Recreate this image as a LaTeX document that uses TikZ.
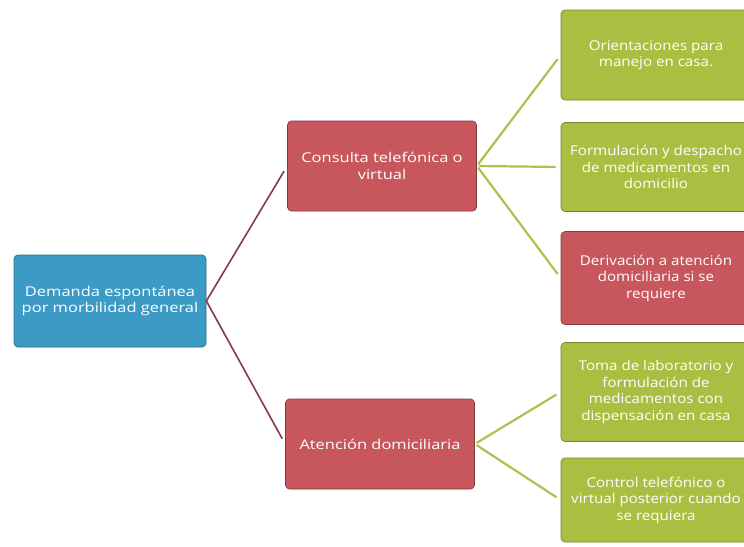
\documentclass[tikz,border=0pt]{standalone}
\usepackage{fontspec}
\setmainfont{Open Sans}[FakeStretch=1.22]
\newfontfamily\leaffont{Open Sans}[FakeStretch=1.12]
\definecolor{rootblue}{HTML}{3C9BC4}
\definecolor{boxred}{HTML}{C7575C}
\definecolor{leafgreen}{HTML}{A9BF42}
\definecolor{linered}{HTML}{853A45}
\definecolor{linegreen}{HTML}{ABC24F}
\begin{document}
\begin{tikzpicture}[x=1pt,y=-1pt,-]
    \tikzstyle{box}=[rounded corners=4pt,text=white,align=center,inner sep=2pt,line width=0.7pt,font=\fontsize{13.5}{16.5}\selectfont]
    \tikzstyle{rootbox}=[box,fill=rootblue,draw=rootblue!70!black,minimum width=192pt,minimum height=92pt]
    \tikzstyle{midbox}=[box,fill=boxred,draw=boxred!65!black,minimum width=189pt,minimum height=90pt]
    \tikzstyle{leafbox}=[box,minimum width=190pt,font=\leaffont\fontsize{13.5}{16.5}\selectfont]
    \tikzstyle{rootline}=[draw=linered,line width=1.6pt,shorten >=6pt]
    \tikzstyle{leafline}=[draw=linegreen,line width=2.2pt,shorten <=2pt,shorten >=5pt]

    \useasboundingbox (0,0) rectangle (744,546);
    \clip (0,0) rectangle (744,546);

    \node[rootbox] (demanda) at (110,301) {Demanda espontánea\\por morbilidad general};
    \node[midbox] (consulta) at (382,166) {Consulta telefónica o\\virtual};
    \node[midbox] (atencion) at (380,444) {Atención domiciliaria};

    \foreach \name/\y/\h/\col/\txt in {%
        orient/55/90/leafgreen/{Orientaciones para\\manejo en casa.},
        formul/167/89/leafgreen/{Formulación y despacho\\de medicamentos en\\domicilio},
        deriv/278/93/boxred/{Derivación a atención\\domiciliaria si se\\requiere},
        toma/392/99/leafgreen/{Toma de laboratorio y\\formulación de\\medicamentos con\\dispensación en casa},
        control/500/84/leafgreen/{Control telefónico o\\virtual posterior cuando\\se requiera}}
        \node[leafbox,fill=\col,draw=\col!70!black,minimum height=\h] (\name) at (656,\y) {\txt};

    \foreach \to in {consulta,atencion}
        \draw[rootline] (demanda.east) -- (\to.west);

    \foreach \from/\to in {consulta/orient,consulta/formul,consulta/deriv,atencion/toma,atencion/control}
        \draw[leafline] (\from.east) -- (\to.west);
\end{tikzpicture}
\end{document}
